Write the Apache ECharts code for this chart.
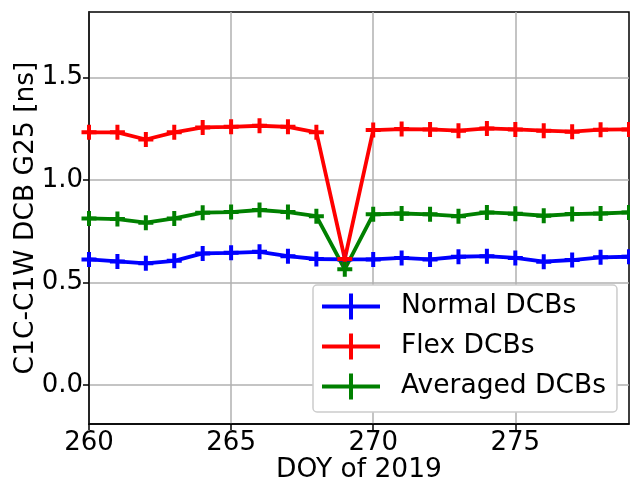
<!DOCTYPE html>
<html>
<head>
<meta charset="utf-8">
<script src="https://cdn.jsdelivr.net/npm/echarts@6/dist/echarts.min.js"></script>
<style>
html, body { margin: 0; padding: 0; background: #fff; }
#main { width: 630px; height: 484px; }
</style>
</head>
<body>
<div id="main"></div>
<script>
// DOY values along x
var days = [260, 261, 262, 263, 264, 265, 266, 267, 268, 269, 270, 271, 272, 273, 274, 275, 276, 277, 278, 279];
var normalDCB = [0.613, 0.603, 0.594, 0.606, 0.642, 0.645, 0.650, 0.629, 0.615, 0.613, 0.613, 0.620, 0.613, 0.626, 0.629, 0.620, 0.602, 0.610, 0.623, 0.626];
var flexDCB = [1.233, 1.233, 1.198, 1.233, 1.257, 1.260, 1.265, 1.260, 1.233, 0.615, 1.244, 1.249, 1.247, 1.241, 1.252, 1.247, 1.241, 1.236, 1.246, 1.247];
var avgDCB = [0.813, 0.810, 0.792, 0.813, 0.841, 0.844, 0.854, 0.844, 0.824, 0.565, 0.833, 0.837, 0.833, 0.824, 0.842, 0.836, 0.826, 0.834, 0.837, 0.842];
var xTicks = [260, 265, 270, 275];
var yTicks = [0, 0.5, 1.0, 1.5];

var FONT = 'DejaVu Sans';
// '+' marker, 15px with ~4px arms
var plusMark = 'path://M-7.5,-2H7.5V2H-7.5Z M-2,-7.5H2V7.5H-2Z';
var legendMark = 'path://M0,11H58V15H0Z M27,0H31V26H27Z';

function pairs(vals) {
    var out = [];
    for (var i = 0; i < days.length; i++) {
        out.push([days[i], vals[i]]);
    }
    return out;
}

function mkSeries(name, color, vals) {
    return {
        name: name,
        type: 'line',
        data: pairs(vals),
        symbol: plusMark,
        symbolSize: 15,
        showAllSymbol: true,
        lineStyle: { color: color, width: 3.8 },
        itemStyle: { color: color },
        emphasis: { disabled: true },
        animation: false
    };
}

var myChart = echarts.init(document.getElementById('main'));

var option = {
    backgroundColor: '#fff',
    animation: false,
    grid: {
        left: 89, right: 1, top: 12, bottom: 60,
        outerBoundsMode: 'none',
        containLabel: false,
        show: true,
        borderColor: '#000',
        borderWidth: 1.5
    },
    legend: {
        data: ['Normal DCBs', 'Flex DCBs', 'Averaged DCBs'],
        orient: 'vertical',
        left: 313,
        top: 285,
        icon: legendMark,
        itemWidth: 58,
        itemHeight: 26,
        itemGap: 13,
        padding: [8, 11, 12, 9],
        backgroundColor: '#fff',
        borderColor: '#cccccc',
        borderWidth: 1.5,
        borderRadius: 4,
        textStyle: {
            fontFamily: FONT,
            fontSize: 26.5,
            color: '#000',
            lineHeight: 26,
            padding: [0, 0, 0, 16]
        }
    },
    xAxis: {
        type: 'value',
        min: 260,
        max: 279,
        name: 'DOY of 2019',
        nameLocation: 'middle',
        nameGap: 33,
        nameMoveOverlap: false,
        nameTextStyle: { fontFamily: FONT, fontSize: 26.5, color: '#000' },
        axisLine: { show: true, onZero: false, lineStyle: { color: '#000', width: 1.5 } },
        axisTick: { show: true, length: 6, customValues: xTicks, lineStyle: { color: '#000', width: 1.5 } },
        axisLabel: {
            customValues: xTicks,
            margin: 6,
            fontFamily: FONT, fontSize: 26, color: '#000'
        },
        splitLine: { show: true, lineStyle: { color: '#b0b0b0', width: 1.5 } }
    },
    yAxis: {
        type: 'value',
        min: -0.19,
        max: 1.82,
        name: 'C1C-C1W DCB G25 [ns]',
        nameLocation: 'middle',
        nameGap: 49,
        nameMoveOverlap: false,
        nameTextStyle: { fontFamily: FONT, fontSize: 26.5, color: '#000' },
        axisLine: { show: true, onZero: false, lineStyle: { color: '#000', width: 1.5 } },
        axisTick: { show: true, length: 6, customValues: yTicks, lineStyle: { color: '#000', width: 1.5 } },
        axisLabel: {
            customValues: yTicks,
            margin: 6,
            fontFamily: FONT, fontSize: 26, color: '#000',
            formatter: function (v) { return v.toFixed(1); }
        },
        splitLine: { show: true, lineStyle: { color: '#b0b0b0', width: 1.5 } }
    },
    series: [
        mkSeries('Normal DCBs', '#0000ff', normalDCB),
        mkSeries('Flex DCBs', '#ff0000', flexDCB),
        mkSeries('Averaged DCBs', '#008000', avgDCB)
    ]
};

myChart.setOption(option);
</script>
</body>
</html>
